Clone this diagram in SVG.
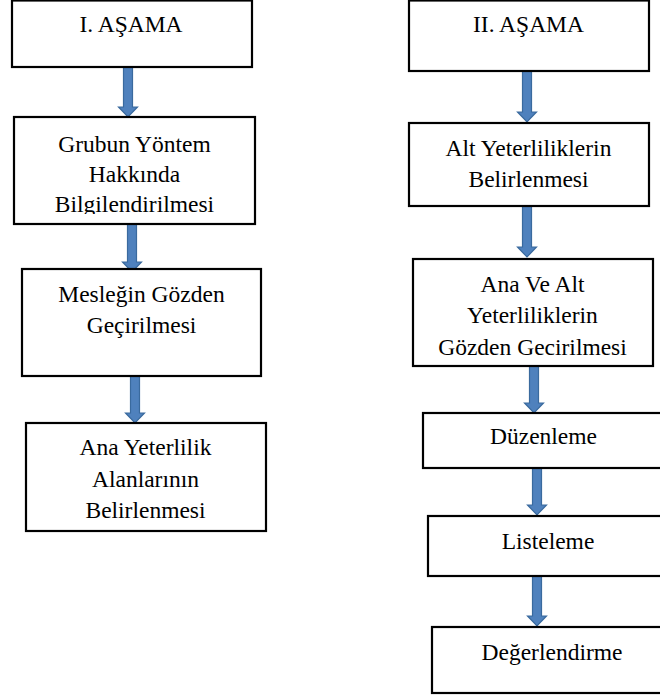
<svg xmlns="http://www.w3.org/2000/svg" width="660" height="696" viewBox="0 0 660 696">
<style>
.box{fill:#fff;stroke:#000;stroke-width:2.2}
.t{font-size:23.5px;fill:#000;text-anchor:middle}
.arr{fill:#4F81BD;stroke:#3A6A9E;stroke-width:1.2}
</style>
<defs>
<clipPath id="c2"><rect x="0" y="117" width="330" height="97"/></clipPath>
</defs>
<rect width="660" height="696" fill="#fff"/>
<g id="connectors">
<path class="arr" d="M123.5,67 H132.5 V107 H137.5 L128,117 L118.5,107 H123.5 Z"/>
<path class="arr" d="M127.5,224 H136.5 V262 H141.5 L132,272 L122.5,262 H127.5 Z"/>
<path class="arr" d="M130.5,376 H139.5 V413 H144.5 L135,423 L125.5,413 H130.5 Z"/>
<path class="arr" d="M522.5,71 H531.5 V112 H536.5 L527,122 L517.5,112 H522.5 Z"/>
<path class="arr" d="M522.5,206 H531.5 V247 H536.5 L527,257 L517.5,247 H522.5 Z"/>
<path class="arr" d="M529.5,366 H538.5 V403 H543.5 L534,413 L524.5,403 H529.5 Z"/>
<path class="arr" d="M532.5,468 H541.5 V505 H546.5 L537,515 L527.5,505 H532.5 Z"/>
<path class="arr" d="M532.5,576 H541.5 V616 H546.5 L537,626 L527.5,616 H532.5 Z"/>
</g>
<g font-family="Liberation Serif, DejaVu Serif, serif">
<g id="n1"><rect class="box" x="12" y="0.5" width="240" height="66.5"/><text class="t" x="131" y="32">I. AŞAMA</text></g>
<g id="n2"><rect class="box" x="14" y="117" width="241" height="107"/>
<g clip-path="url(#c2)"><text class="t" x="134.5" y="152">Grubun Yöntem</text><text class="t" x="134.5" y="182">Hakkında</text><text class="t" x="134.5" y="212">Bilgilendirilmesi</text></g></g>
<g id="n3"><rect class="box" x="22" y="269" width="239" height="107"/><text class="t" x="141.5" y="302">Mesleğin Gözden</text><text class="t" x="141.5" y="333">Geçirilmesi</text></g>
<g id="n4"><rect class="box" x="26" y="423" width="240" height="108"/><text class="t" x="145.5" y="455">Ana Yeterlilik</text><text class="t" x="145.5" y="487">Alanlarının</text><text class="t" x="145.5" y="518">Belirlenmesi</text></g>
<g id="n5"><rect class="box" x="409" y="0.5" width="240" height="70.5"/><text class="t" x="528.5" y="32">II. AŞAMA</text></g>
<g id="n6"><rect class="box" x="409" y="123" width="240" height="83"/><text class="t" x="528.5" y="156">Alt Yeterliliklerin</text><text class="t" x="528.5" y="187">Belirlenmesi</text></g>
<g id="n7"><rect class="box" x="413" y="259" width="240" height="107"/><text class="t" x="532.5" y="292">Ana Ve Alt</text><text class="t" x="532.5" y="323">Yeterliliklerin</text><text class="t" x="532.5" y="355">Gözden Gecirilmesi</text></g>
<g id="n8"><rect class="box" x="423" y="413" width="250" height="55"/><text class="t" x="543.5" y="444">Düzenleme</text></g>
<g id="n9"><rect class="box" x="428" y="516" width="250" height="60"/><text class="t" x="548" y="549">Listeleme</text></g>
<g id="n10"><rect class="box" x="432" y="627" width="250" height="66"/><text class="t" x="552" y="660">Değerlendirme</text></g>
</g>
</svg>
